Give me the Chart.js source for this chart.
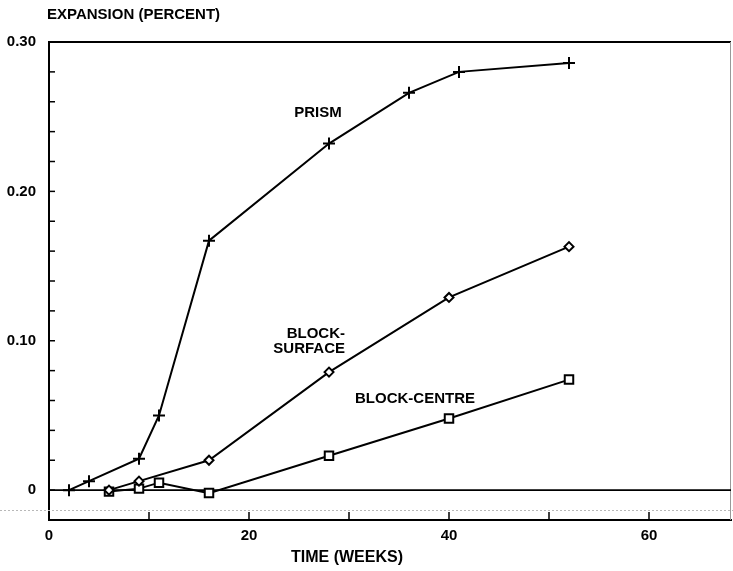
<!DOCTYPE html>
<html>
<head>
<meta charset="utf-8">
<script src="https://cdn.jsdelivr.net/npm/chart.js@4"></script>
<style>
  html, body { margin: 0; padding: 0; background: #fff; }
  #wrap { width: 733px; height: 571px; }
</style>
</head>
<body>
<div id="wrap"><canvas id="myChart" width="733" height="571"></canvas></div>
<script>
// weeks / expansion (%)
const prismWeeks = [2, 4, 9, 11, 16, 28, 36, 41, 52];
const prismExp = [0.000, 0.006, 0.021, 0.050, 0.167, 0.232, 0.266, 0.280, 0.286];

const surfaceWeeks = [6, 9, 16, 28, 40, 52];
const surfaceExp = [0.000, 0.006, 0.020, 0.079, 0.129, 0.163];

const centreWeeks = [6, 9, 11, 16, 28, 40, 52];
const centreExp = [-0.001, 0.001, 0.005, -0.002, 0.023, 0.048, 0.074];

const xTickLabels = [0, 20, 40, 60];
const yTickLabels = [0, 0.10, 0.20, 0.30];

// curve labels: text, week, expansion, alignment
const curveLabels = [
  ['PRISM', 26.9, 0.2525, 'center'],
  ['BLOCK-', 29.6, 0.1045, 'right'],
  ['SURFACE', 29.6, 0.0944, 'right'],
  ['BLOCK-CENTRE', 36.6, 0.061, 'center']
];

const toPoints = (xs, ys) => xs.map((x, i) => ({ x: x, y: ys[i] }));
const FAMILY = '"Liberation Sans", Arial, sans-serif';
const FONT = 'bold 15px ' + FAMILY;

const frame = {
  id: 'frame',
  beforeDatasetsDraw(chart) {
    const { ctx, chartArea: a, scales: { x, y } } = chart;
    ctx.save();
    // scan artefact dotted line
    ctx.strokeStyle = '#b8b8b8';
    ctx.lineWidth = 1;
    ctx.setLineDash([2, 2]);
    const yd = Math.round(y.getPixelForValue(-0.0135)) + 0.5;
    ctx.beginPath(); ctx.moveTo(0, yd); ctx.lineTo(chart.width, yd); ctx.stroke();
    ctx.setLineDash([]);
    // top and right border
    ctx.strokeStyle = '#000';
    ctx.lineWidth = 2;
    ctx.beginPath(); ctx.moveTo(a.left, a.top); ctx.lineTo(a.right, a.top); ctx.stroke();
    ctx.strokeStyle = '#999';
    ctx.lineWidth = 1;
    ctx.beginPath(); ctx.moveTo(a.right - 0.5, a.top); ctx.lineTo(a.right - 0.5, a.bottom); ctx.stroke();
    // zero line
    ctx.strokeStyle = '#000';
    ctx.lineWidth = 1.8;
    const y0 = y.getPixelForValue(0);
    ctx.beginPath(); ctx.moveTo(a.left, y0); ctx.lineTo(a.right, y0); ctx.stroke();
    // inward ticks
    ctx.lineWidth = 1.5;
    x.ticks.forEach(t => {
      if (Math.abs(t.value % 10) > 1e-6) return;
      const px = x.getPixelForValue(t.value);
      ctx.beginPath(); ctx.moveTo(px, a.bottom); ctx.lineTo(px, a.bottom - 8); ctx.stroke();
    });
    y.ticks.forEach(t => {
      const py = y.getPixelForValue(t.value);
      ctx.beginPath(); ctx.moveTo(a.left, py); ctx.lineTo(a.left + 6, py); ctx.stroke();
    });
    ctx.restore();
  },
  afterDraw(chart) {
    const { ctx, chartArea: a, scales: { x, y } } = chart;
    ctx.save();
    ctx.fillStyle = '#000';
    ctx.font = FONT;
    ctx.textBaseline = 'middle';
    curveLabels.forEach(([txt, wx, wy, align]) => {
      ctx.textAlign = align;
      ctx.fillText(txt, x.getPixelForValue(wx), y.getPixelForValue(wy));
    });
    ctx.textAlign = 'left';
    ctx.fillText('EXPANSION (PERCENT)', a.left - 2, a.top - 27);
    ctx.textAlign = 'center';
    ctx.font = 'bold 16px ' + FAMILY;
    ctx.fillText('TIME (WEEKS)', x.getPixelForValue(29.8), a.bottom + 38);
    ctx.restore();
  }
};

const lineStyle = {
  showLine: true,
  borderColor: '#000',
  borderWidth: 2,
  pointBorderColor: '#000',
  pointBorderWidth: 2,
  tension: 0
};

new Chart(document.getElementById('myChart'), {
  type: 'scatter',
  data: {
    datasets: [
      Object.assign({ label: 'PRISM', data: toPoints(prismWeeks, prismExp),
        pointStyle: 'cross', pointRadius: 6, backgroundColor: '#000' }, lineStyle),
      Object.assign({ label: 'BLOCK-SURFACE', data: toPoints(surfaceWeeks, surfaceExp),
        pointStyle: 'rectRot', pointRadius: 4.5, backgroundColor: '#fff', pointBackgroundColor: '#fff' }, lineStyle),
      Object.assign({ label: 'BLOCK-CENTRE', data: toPoints(centreWeeks, centreExp),
        pointStyle: 'rect', pointRadius: 6, backgroundColor: '#fff', pointBackgroundColor: '#fff' }, lineStyle)
    ]
  },
  options: {
    responsive: false,
    animation: false,
    devicePixelRatio: 1,
    layout: { autoPadding: false, padding: { top: 42, right: 2, left: 0, bottom: 0 } },
    plugins: { legend: { display: false }, tooltip: { enabled: false } },
    scales: {
      x: {
        type: 'linear',
        min: 0,
        max: 68.2,
        afterFit(s) { s.height = 51; s.paddingLeft = 0; s.paddingRight = 0; },
        border: { color: '#000', width: 2 },
        grid: { display: true, drawOnChartArea: false, drawTicks: false, color: 'rgba(0,0,0,0)' },
        ticks: {
          stepSize: 10,
          padding: 7,
          color: '#000',
          font: { family: FAMILY, size: 15, weight: 'bold' },
          callback: v => xTickLabels.includes(Math.round(v * 1000) / 1000) ? String(v) : ''
        }
      },
      y: {
        min: -0.02,
        max: 0.30,
        afterFit(s) { s.width = 49; },
        border: { color: '#000', width: 2 },
        grid: { display: true, drawOnChartArea: false, drawTicks: false, color: 'rgba(0,0,0,0)' },
        ticks: {
          stepSize: 0.02,
          padding: 13,
          color: '#000',
          font: { family: FAMILY, size: 15, weight: 'bold' },
          callback: v => {
            const r = Math.round(v * 100) / 100;
            if (!yTickLabels.some(t => Math.abs(t - r) < 1e-6)) return '';
            return r === 0 ? '0' : r.toFixed(2);
          }
        }
      }
    }
  },
  plugins: [frame]
});
</script>
</body>
</html>
